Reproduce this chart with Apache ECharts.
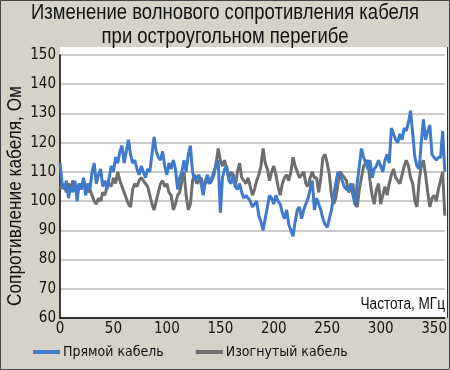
<!DOCTYPE html>
<html><head><meta charset="utf-8">
<script src="https://cdn.jsdelivr.net/npm/echarts@6/dist/echarts.min.js"></script>
<style>html,body{margin:0;padding:0;background:#d5d2c8}#c{width:450px;height:370px}</style>
</head><body><div id="c"></div>
<script>
const titleLines = ['Изменение волнового сопротивления кабеля', 'при остроугольном перегибе'];
const yName = 'Сопротивление кабеля, Ом';
const xName = 'Частота, МГц';
const seriesNames = ['Прямой кабель', 'Изогнутый кабель'];
const xTicks = [0, 50, 100, 150, 200, 250, 300, 350];
const yTicks = [60, 70, 80, 90, 100, 110, 120, 130, 140, 150];
// frequency, MHz (step 2)
const freq = [];
for (let f = 0; f <= 360; f += 2) freq.push(f);
const straight = [
113,106,104,107,101,105,103,107,100,106,104,108,102,106,104,110,113,106,109,111,
105,107,104,108,112,110,115,113,117,119,113,117,121,116,113,114,111,109,112,110,
108,111,110,116,122,117,115,114,117,112,109,113,111,114,111,104,108,110,114,110,
116,119,110,107,108,109,106,102,107,109,106,108,110,112,114,96,108,111,112,107,
106,109,105,104,106,103,101,102,101,100,98,99,100,95,93,90,94,98,102,101,
99,102,100,99,96,94,97,92,90,88,93,97,98,94,97,99,101,104,107,97,
101,99,97,94,92,91,94,97,102,106,110,109,107,105,104,104,106,102,99,106,
112,118,115,113,111,114,108,111,112,114,112,110,114,116,113,125,123,121,120,123,
121,125,124,127,131,123,115,112,111,120,128,121,124,126,116,115,114,115,115,124,
110];
const bent = [
104,106,105,103,106,104,107,105,103,106,104,107,105,103,104,102,100,99,101,100,
103,102,105,106,105,108,106,110,107,105,103,101,99,98,104,106,105,107,108,107,
106,105,102,99,97,100,103,106,107,105,106,103,102,97,99,102,103,107,110,102,
97,99,107,109,106,107,108,105,106,107,106,107,109,113,118,114,112,114,111,108,
110,109,105,110,113,108,107,106,108,105,102,104,107,109,112,118,113,111,107,110,
112,109,105,102,106,108,109,107,110,115,112,110,108,109,110,106,105,108,110,108,
108,103,108,115,116,113,109,102,99,101,106,110,109,108,107,103,104,106,99,98,
104,108,112,113,114,107,102,99,104,106,99,102,105,102,106,109,111,108,107,106,
109,112,114,112,108,106,100,98,107,112,114,109,103,98,101,102,100,104,107,110,
95];
const chart = echarts.init(document.getElementById('c'), null, {renderer: 'canvas'});
const FONT = '"Liberation Sans", Arial, sans-serif';
const CFONT = '"DejaVu Sans Condensed", "Liberation Sans", sans-serif';
chart.setOption({
  backgroundColor: '#d5d2c8',
  animation: false,
  graphic: [
    {type: 'rect', shape: {x: 60, y: 47, width: 388, height: 271}, style: {fill: '#ffffff'}, z: -10, silent: true},
    {type: 'line', shape: {x1: 447.5, y1: 47, x2: 447.5, y2: 318}, style: {stroke: '#333', lineWidth: 1}, z: 5},
    {type: 'rect', shape: {x: 0.5, y: 0.5, width: 449, height: 369}, style: {fill: 'none', stroke: '#444', lineWidth: 1}, z: 10, silent: true},
    {type: 'text', x: 225, y: 1, scaleX: 0.84, style: {text: titleLines.join('\n'), font: '22px ' + FONT, fill: '#111', align: 'center', verticalAlign: 'top', lineHeight: 24}},
    {type: 'text', x: 445, y: 305, scaleX: 0.85, style: {text: xName, font: '16px ' + FONT, fill: '#111', align: 'right', verticalAlign: 'middle'}, z: 20},
    {type: 'text', x: 15, y: 196, rotation: Math.PI / 2, scaleX: 0.82, style: {text: yName, font: '21px ' + FONT, fill: '#111', align: 'center', verticalAlign: 'middle'}}
  ],
  legend: {
    left: 33, top: 345, padding: 0, itemWidth: 27, itemHeight: 4, itemGap: 32, icon: 'rect',
    textStyle: {fontFamily: CFONT, fontSize: 14, color: '#111', padding: [0, 0, 0, -2]},
    data: seriesNames
  },
  grid: {left: 60, right: 3, top: 55, bottom: 52},
  xAxis: {
    type: 'value', min: 0, max: 360, interval: 50,
    axisLine: {show: true, onZero: false, lineStyle: {color: '#000', width: 1.5}},
    axisTick: {show: false}, splitLine: {show: false},
    axisLabel: {fontFamily: CFONT, fontSize: 15, color: '#111', margin: 4,
      formatter: v => xTicks.includes(v) ? String(v) : ''}
  },
  yAxis: {
    type: 'value', min: 60, max: 150, interval: 10,
    axisLine: {show: true, lineStyle: {color: '#000', width: 1.5}},
    axisTick: {show: false},
    splitLine: {show: true, lineStyle: {color: '#b8b8b8', width: 1.5}},
    axisLabel: {fontFamily: CFONT, fontSize: 15, color: '#111', margin: 4,
      formatter: v => yTicks.includes(v) ? String(v) : ''}
  },
  series: [
    {name: seriesNames[1], type: 'line', showSymbol: false, symbol: 'none', z: 2,
      lineStyle: {color: '#6e6e6e', width: 3}, itemStyle: {color: '#6e6e6e'},
      data: freq.map((f, i) => [f, bent[i]])},
    {name: seriesNames[0], type: 'line', showSymbol: false, symbol: 'none', z: 3,
      lineStyle: {color: '#3f7acb', width: 3}, itemStyle: {color: '#3f7acb'},
      data: freq.map((f, i) => [f, straight[i]])}
  ]
});
</script></body></html>
